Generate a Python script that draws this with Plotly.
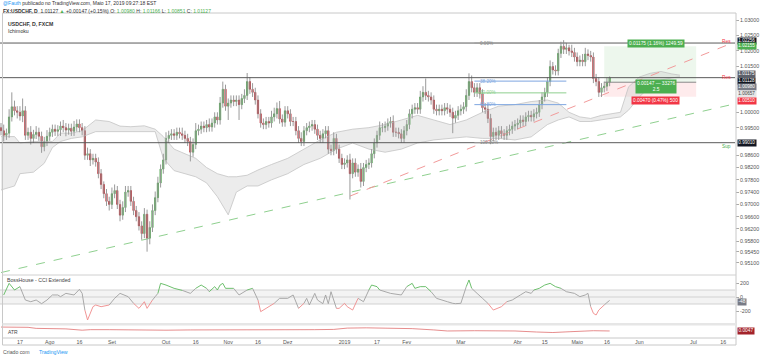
import pandas as pd
import plotly.graph_objects as go

W, H = 760, 359
FONT = "Liberation Sans, Arial, sans-serif"

# ---------------- data ----------------
first_day = "2018-07-06"
last_axis_day = "2019-07-31"
first_open = 0.9950

close = [
    0.9940, 0.9925, 0.9932, 0.9985, 1.0018, 1.0005, 1.0000, 0.9988, 1.0005, 0.9925,
    0.9935, 0.9915, 0.9928, 0.9935, 0.9922, 0.9888, 0.9905, 0.9922, 0.9935, 0.9945,
    0.9938, 0.9943, 0.9955, 0.9950, 0.9942, 0.9948, 0.9938, 0.9952, 0.9962, 0.9950,
    0.9940, 0.9860, 0.9865, 0.9845, 0.9850, 0.9838, 0.9800, 0.9765, 0.9735, 0.9710,
    0.9700, 0.9735, 0.9745, 0.9700, 0.9665, 0.9690, 0.9740, 0.9745, 0.9710, 0.9680,
    0.9660, 0.9630, 0.9605, 0.9668, 0.9590, 0.9625, 0.9680, 0.9722, 0.9770, 0.9815,
    0.9845, 0.9915, 0.9925, 0.9930, 0.9925, 0.9935, 0.9930, 0.9925, 0.9915, 0.9905,
    0.9870, 0.9895, 0.9940, 0.9945, 0.9955, 0.9950, 0.9960, 0.9952, 0.9965, 0.9985,
    0.9975, 1.0030, 1.0075, 1.0020, 1.0030, 1.0040, 1.0035, 1.0040, 1.0025, 1.0045,
    1.0055, 1.0100, 1.0075, 1.0065, 1.0040, 0.9995, 0.9965, 0.9960, 0.9970, 0.9965,
    0.9985, 0.9995, 1.0012, 0.9978, 0.9968, 1.0005, 0.9995, 0.9970, 0.9970, 0.9940,
    0.9915, 0.9905, 0.9940, 0.9950, 0.9955, 0.9960, 0.9945, 0.9925, 0.9915, 0.9930,
    0.9940, 0.9880, 0.9875, 0.9915, 0.9880, 0.9850, 0.9830, 0.9835, 0.9845, 0.9800,
    0.9835, 0.9805, 0.9815, 0.9775, 0.9820, 0.9830, 0.9835, 0.9865, 0.9900, 0.9925,
    0.9950, 0.9950, 0.9955, 0.9965, 0.9970, 0.9935, 0.9935, 0.9930, 0.9915, 0.9940,
    0.9960, 0.9995, 1.0010, 1.0015, 1.0010, 1.0050, 1.0065, 1.0055, 1.0050, 1.0040,
    1.0010, 1.0005, 1.0010, 1.0005, 1.0015, 1.0010, 1.0000, 0.9981, 0.9990, 1.0005,
    1.0010, 1.0018, 1.0055, 1.0100, 1.0080, 1.0065, 1.0080, 1.0060, 1.0015, 1.0010,
    0.9980, 0.9921, 0.9935, 0.9925, 0.9940, 0.9930, 0.9925, 0.9940, 0.9945, 0.9955,
    0.9960, 0.9965, 0.9975, 0.9970, 0.9985, 0.9990, 0.9985, 0.9995, 1.0000, 1.0025,
    1.0050, 1.0065, 1.0100, 1.0149, 1.0138, 1.0135, 1.0192, 1.0215, 1.0205, 1.0210,
    1.0200, 1.0195, 1.0180, 1.0165, 1.0170, 1.0165, 1.0190, 1.0185, 1.0180, 1.0110,
    1.0100, 1.0065, 1.0080, 1.0085, 1.0098, 1.01127,
]

upper_wick_pips = [
    15, 20, 15, 25, 47, 20, 15, 20, 40, 15,
    15, 20, 15, 20, 15, 15, 15, 20, 15, 15,
    15, 15, 15, 20, 15, 15, 15, 20, 15, 15,
    15, 15, 20, 15, 15, 15, 15, 15, 10, 15,
    15, 20, 20, 15, 15, 20, 20, 15, 15, 15,
    15, 15, 15, 20, 15, 20, 20, 20, 20, 15,
    20, 20, 15, 15, 15, 15, 15, 20, 15, 15,
    15, 20, 25, 15, 15, 15, 15, 20, 15, 15,
    15, 20, 25, 15, 15, 15, 15, 15, 15, 15,
    20, 28, 15, 20, 15, 15, 15, 15, 15, 15,
    20, 20, 20, 25, 15, 15, 15, 15, 15, 15,
    15, 20, 15, 15, 15, 15, 15, 15, 15, 15,
    15, 15, 15, 20, 15, 15, 15, 15, 15, 20,
    15, 15, 15, 20, 15, 15, 15, 15, 15, 15,
    20, 15, 15, 15, 15, 20, 15, 15, 15, 15,
    15, 15, 15, 15, 15, 20, 20, 45, 15, 15,
    15, 15, 15, 15, 15, 15, 15, 15, 15, 15,
    15, 15, 20, 27, 20, 15, 15, 15, 15, 15,
    15, 15, 15, 15, 15, 15, 15, 15, 15, 15,
    15, 15, 15, 15, 15, 15, 15, 15, 15, 15,
    15, 15, 15, 20, 15, 15, 15, 15, 20, 16,
    10, 20, 15, 15, 15, 20, 20, 15, 15, 15,
    15, 15, 15, 15, 15, 4,
]

lower_wick_pips = [
    15, 20, 15, 15, 15, 15, 20, 15, 20, 15,
    15, 20, 15, 15, 15, 20, 15, 15, 15, 15,
    15, 15, 20, 15, 20, 15, 15, 15, 15, 15,
    15, 15, 15, 20, 15, 15, 15, 15, 15, 15,
    20, 15, 15, 15, 20, 15, 15, 15, 15, 15,
    15, 15, 20, 15, 44, 20, 15, 15, 15, 15,
    15, 15, 15, 15, 15, 15, 15, 15, 15, 15,
    30, 15, 15, 15, 15, 15, 15, 15, 15, 15,
    15, 15, 15, 15, 45, 15, 15, 15, 50, 15,
    15, 15, 15, 15, 15, 15, 15, 15, 15, 15,
    15, 15, 15, 15, 15, 15, 15, 15, 15, 15,
    15, 15, 15, 15, 15, 15, 15, 15, 15, 15,
    15, 15, 15, 15, 15, 15, 15, 15, 15, 84,
    15, 15, 15, 20, 15, 15, 15, 15, 15, 15,
    15, 15, 15, 15, 15, 15, 15, 15, 15, 15,
    15, 15, 15, 15, 15, 15, 15, 15, 15, 15,
    15, 15, 15, 15, 15, 15, 15, 49, 15, 15,
    15, 15, 15, 15, 15, 15, 15, 15, 15, 15,
    15, 25, 15, 15, 15, 15, 15, 15, 15, 15,
    15, 15, 15, 15, 15, 15, 15, 15, 15, 15,
    15, 15, 15, 15, 15, 15, 15, 15, 15, 15,
    15, 15, 15, 15, 15, 15, 15, 15, 15, 15,
    15, 15, 15, 15, 15, 13,
]

# Ichimoku cloud edges (bar index -> price)
cloud_idx = [0, 5, 7, 12, 16, 19, 22, 26, 30, 35, 40, 44, 48, 53, 57, 60, 64, 68, 72, 76,
             80, 84, 87, 91, 95, 100, 106, 112, 118, 124, 130, 136, 142, 148, 154, 160, 166, 172, 178, 184,
             190, 196, 202, 206, 210, 214, 218, 222, 226, 229, 232, 236, 240, 244, 248, 251]
cloud_upper = [0.9921, 0.9921, 0.9900, 0.9905, 0.9905, 0.9905, 0.9932, 0.9932, 0.9940, 0.9975,
               0.9970, 0.9955, 0.9953, 0.9956, 0.9945, 0.9921, 0.9880, 0.9866, 0.9850, 0.9820,
               0.9800, 0.9790, 0.9790, 0.9795, 0.9812, 0.9830, 0.9850, 0.9880, 0.9910, 0.9935,
               0.9945, 0.9950, 0.9960, 0.9975, 0.9990, 0.9975, 0.9960, 0.9975, 1.0000, 1.0020,
               1.0025, 1.0035, 1.0040, 1.0030, 1.0000, 0.9985, 0.9980, 0.9990, 0.9995, 1.0000,
               1.0083, 1.0115, 1.0127, 1.0133, 1.0125, 1.0121]
cloud_lower = [0.9747, 0.9760, 0.9800, 0.9805, 0.9834, 0.9885, 0.9905, 0.9915, 0.9920, 0.9937,
               0.9937, 0.9937, 0.9937, 0.9937, 0.9937, 0.9850, 0.9810, 0.9800, 0.9790, 0.9770,
               0.9725, 0.9666, 0.9740, 0.9760, 0.9760, 0.9780, 0.9800, 0.9830, 0.9850, 0.9880,
               0.9900, 0.9880, 0.9870, 0.9880, 0.9900, 0.9910, 0.9915, 0.9920, 0.9915, 0.9915,
               0.9910, 0.9920, 0.9960, 0.9975, 0.9985, 0.9970, 0.9970, 0.9975, 0.9982, 0.9985,
               1.0007, 1.0050, 1.0085, 1.0105, 1.0112, 1.0116]

cci_idx = [1, 3, 5, 7, 9, 11, 13, 15, 17, 19, 21, 22, 24, 27, 29, 30, 31, 32, 34, 35,
           37, 40, 42, 44, 47, 49, 51, 53, 54, 56, 57, 58, 59, 61, 64, 67, 70, 72, 74, 76,
           77, 79, 80, 81, 82, 83, 86, 88, 91, 93, 95, 96, 98, 101, 103, 106, 108, 110, 112, 113,
           114, 116, 117, 119, 120, 121, 122, 124, 125, 127, 128, 130, 132, 134, 136, 137, 139, 140, 144, 148,
           150, 152, 153, 155, 157, 159, 161, 165, 167, 168, 170, 172, 173, 174, 176, 178, 180, 182, 185, 187,
           189, 192, 194, 196, 197, 199, 201, 203, 205, 207, 209, 212, 214, 216, 217, 218, 219, 220, 221, 223,
           224, 225]
cci_val = [29, 195, 100, 148, -43, -67, -43, -95, -43, 29, 29, 5, 52, 29, 110, 52, -186, -328, -138, -114,
           -138, -114, -19, 52, 5, -90, -162, -67, -162, -43, 5, 52, 195, 171, 124, 95, 52, 124, 171, 124,
           76, 148, 100, 171, 195, 124, 124, 29, 100, 124, -43, -209, -162, -90, -19, -19, 29, -162, -90, -19,
           -114, 52, -43, -95, 29, -95, 76, -162, -162, -90, -138, -186, -19, -67, 100, 171, 148, 100, 52, 29,
           148, 195, 124, 148, 148, 76, -19, -67, -90, -95, -90, 148, 243, 124, 52, -19, -90, -186, -138, -67,
           -43, 29, 76, 52, 100, 124, 171, 195, 148, 124, 76, 52, 5, 29, 52, -138, -233, -257, -186, -114,
           -80, -48]

atr_idx = [0, 10, 13, 24, 30, 33, 40, 50, 61, 70, 80, 95, 110, 116, 123, 128, 135, 140, 147, 152,
           160, 165, 175, 190, 198, 204, 210, 216, 219, 225]
atr_val = [0.0062, 0.0061, 0.0057, 0.0055, 0.0050, 0.0052, 0.0052, 0.0050, 0.0050, 0.0051,
           0.0051, 0.0050, 0.0050, 0.0052, 0.0053, 0.0058, 0.0059, 0.0058, 0.0057, 0.0056,
           0.0051, 0.0047, 0.0048, 0.0047, 0.0043, 0.0041, 0.0044, 0.0046, 0.0048, 0.0047]

time_tick_dates = ["2018-07-17", "2018-08-01", "2018-08-16", "2018-09-03", "2018-10-01", "2018-10-16",
                   "2018-11-01", "2018-11-16", "2018-12-03", "2019-01-01", "2019-01-17", "2019-02-01",
                   "2019-03-01", "2019-04-01", "2019-04-15", "2019-05-01", "2019-05-16", "2019-06-03",
                   "2019-07-01", "2019-07-16"]
time_tick_text = ["17", "Ago", "16", "Set", "Out", "16", "Nov", "16", "Dez", "2019", "17", "Fev",
                  "Mar", "Abr", "15", "Maio", "16", "Jun", "Jul", "16"]

price_tick_text = ["1.03000", "1.02500", "1.02000", "1.01500", "1.00000", "0.99500", "0.98600",
                   "0.98200", "0.97800", "0.97400", "0.97000", "0.96600", "0.96200", "0.95800",
                   "0.95450", "0.95100"]
cci_tick_vals = [200, 0, -200]

res_levels = [1.02256, 1.01128]
sup_levels = [0.99010]
fib_top, fib_bottom = 1.02256, 0.99010
fib_ratios = [0.0, 0.382, 0.5, 0.618, 1.0]
fib_labels = ["0.00%", "38.20%", "50.00%", "61.80%", "100.00%"]
fib_colors = ["#9e9e9e", "#7ea6e0", "#8fcf8f", "#7ea6e0", "#9e9e9e"]
fib_start, fib_end = "2019-03-08", "2019-04-25"

green_trend = [("2018-07-06", 0.9478), ("2019-07-22", 1.0027)]
red_trend = [("2019-01-03", 0.9727), ("2019-07-22", 1.0228)]

pos_start, pos_end = "2019-05-15", "2019-07-02"
pos_entry, pos_target, pos_stop = 1.00980, 1.02155, 1.00510
pos_texts = ["0.01175 (1.16%) 1249.59", "0.00147 — 33276<br>2.5", "0.00470 (0.47%) 500"]

axis_boxes = [("1.02256", 1.02256, "#131722", "white", 2.5),
              ("1.02155", 1.02155, "#4caf50", "white", 0),
              ("1.01175", 1.01175, "#5d606b", "white", 2),
              ("1.01128", 1.01128, "#131722", "white", -3),
              ("1.00980", 1.00980, "#787b86", "white", -5),
              ("1.00657", 1.00657, "#e6e6e6", "#444", -2),
              ("1.00510", 1.00510, "#f23645", "white", -4),
              ("0.99010", 0.99010, "#131722", "white", 0)]

last_ohlc = dict(o="1.00980", h="1.01166", l="1.00851", c="1.01127", chg="+0.00147 (+0.15%)")
cci_last, atr_last = -48, 0.0047

# ---------------- build ----------------
dates = pd.bdate_range(first_day, last_axis_day)


def di(d):
    return int(dates.get_loc(pd.Timestamp(d)))


n = len(close)
xs = list(range(n))
opens = [first_open] + close[:-1]
body_hi = [max(o, c) for o, c in zip(opens, close)]
body_lo = [min(o, c) for o, c in zip(opens, close)]
highs = [b + u * 1e-4 for b, u in zip(body_hi, upper_wick_pips)]
lows = [b - d * 1e-4 for b, d in zip(body_lo, lower_wick_pips)]

wx, wy = [], []
for i in xs:
    wx += [i, i, None]
    wy += [lows[i], highs[i], None]

fig = go.Figure()

# cloud
fig.add_trace(go.Scatter(x=cloud_idx, y=cloud_lower, mode="lines", line=dict(color="#c4c4c4", width=0.8),
                         hoverinfo="skip", xaxis="x", yaxis="y"))
fig.add_trace(go.Scatter(x=cloud_idx, y=cloud_upper, mode="lines", line=dict(color="#c4c4c4", width=0.8),
                         fill="tonexty", fillcolor="rgba(200,200,200,0.35)", hoverinfo="skip",
                         xaxis="x", yaxis="y"))

# trend lines
for pts, col in [(green_trend, "#8fd08f"), (red_trend, "#f29a9a")]:
    fig.add_trace(go.Scatter(x=[di(p[0]) for p in pts], y=[p[1] for p in pts], mode="lines",
                             line=dict(color=col, width=1, dash="dash"), hoverinfo="skip",
                             xaxis="x", yaxis="y"))

# wicks
fig.add_trace(go.Scatter(x=wx, y=wy, mode="lines", line=dict(color="#9a9a9a", width=1),
                         hoverinfo="skip", xaxis="x", yaxis="y"))
# bodies
fig.add_trace(go.Candlestick(x=xs, open=opens, close=close, high=body_hi, low=body_lo,
                             increasing=dict(line=dict(color="#3c9a3c", width=0.6), fillcolor="#3c9a3c"),
                             decreasing=dict(line=dict(color="#b3141c", width=0.6), fillcolor="#b3141c"),
                             whiskerwidth=0, hoverinfo="skip", xaxis="x", yaxis="y"))

# CCI coloured segments
seg = {"g": ([], []), "r": ([], []), "n": ([], [])}
for k in range(len(cci_idx) - 1):
    a, b = cci_val[k], cci_val[k + 1]
    m = (a + b) / 2
    key = "g" if m > 100 else ("r" if m < -100 else "n")
    seg[key][0].extend([cci_idx[k], cci_idx[k + 1], None])
    seg[key][1].extend([a, b, None])
for key, col in [("n", "#a0a0a0"), ("g", "#5cb85c"), ("r", "#ef8a8a")]:
    fig.add_trace(go.Scatter(x=seg[key][0], y=seg[key][1], mode="lines", line=dict(color=col, width=0.9),
                             hoverinfo="skip", xaxis="x2", yaxis="y2"))

# ATR
fig.add_trace(go.Scatter(x=atr_idx, y=atr_val, mode="lines", line=dict(color="#e07070", width=0.8),
                         hoverinfo="skip", xaxis="x3", yaxis="y3"))

# ---------------- shapes ----------------
shapes = []
for v in res_levels + sup_levels:
    shapes.append(dict(type="line", xref="x domain", x0=0, x1=1, yref="y", y0=v, y1=v,
                       line=dict(color="#5a5a5a", width=1)))
f0, f1 = di(fib_start), di(fib_end)
for r, col in zip(fib_ratios, fib_colors):
    v = fib_top - r * (fib_top - fib_bottom)
    shapes.append(dict(type="line", xref="x", x0=f0, x1=f1, yref="y", y0=v, y1=v,
                       line=dict(color=col, width=1)))
p0, p1 = di(pos_start), di(pos_end)
shapes.append(dict(type="rect", xref="x", x0=p0, x1=p1, yref="y", y0=pos_entry, y1=pos_target,
                   fillcolor="rgba(76,175,80,0.10)", line=dict(width=0), layer="below"))
shapes.append(dict(type="rect", xref="x", x0=p0, x1=p1, yref="y", y0=pos_stop, y1=pos_entry,
                   fillcolor="rgba(242,54,69,0.10)", line=dict(width=0), layer="below"))
shapes.append(dict(type="line", xref="x", x0=p0, x1=p1, yref="y", y0=pos_entry, y1=pos_entry,
                   line=dict(color="#8a8a8a", width=1)))
# CCI band
shapes.append(dict(type="rect", xref="x2 domain", x0=0, x1=1, yref="y2", y0=-100, y1=100,
                   fillcolor="#f3f3f3", line=dict(width=0), layer="below"))
for v in [100, 0, -100]:
    shapes.append(dict(type="line", xref="x2 domain", x0=0, x1=1, yref="y2", y0=v, y1=v,
                       line=dict(color="#c8c8c8", width=0.8), layer="below"))


def px(xp):
    return xp / W


def py(yp):
    return 1 - yp / H


# frame / separators
shapes += [
    dict(type="rect", xref="paper", yref="paper", x0=px(2.5), x1=px(736), y0=py(345), y1=py(13),
         line=dict(color="#c8c8c8", width=1)),
    dict(type="line", xref="paper", yref="paper", x0=px(2.5), x1=px(736), y0=py(275), y1=py(275),
         line=dict(color="#d0d0d0", width=1)),
    dict(type="rect", xref="paper", yref="paper", x0=px(2.5), x1=px(736), y0=py(325.5), y1=py(323),
         fillcolor="#e6e6e6", line=dict(width=0)),
    dict(type="line", xref="paper", yref="paper", x0=px(2.5), x1=px(736), y0=py(338), y1=py(338),
         line=dict(color="#c8c8c8", width=1)),
]

# ---------------- annotations ----------------
ann = []


def text(t, xp, yp, size=5.2, color="#333", xanchor="left", **kw):
    ann.append(dict(text=t, x=px(xp), y=py(yp), xref="paper", yref="paper", showarrow=False,
                    font=dict(size=size, color=color, family=FONT), xanchor=xanchor,
                    yanchor="middle", **kw))


G = "#4caf50"
text('<span style="color:#2196f3">@Fauth</span> publicado no TradingView.com, Maio 17, 2019 09:27:18 EST',
     1, 3.5, size=5)
text(f'<b>FX:USDCHF, D</b>  {last_ohlc["c"]} <span style="color:{G}">▲</span> {last_ohlc["chg"]} '
     f'O: <span style="color:{G}">{last_ohlc["o"]}</span> H: <span style="color:{G}">{last_ohlc["h"]}</span> '
     f'L: <span style="color:{G}">{last_ohlc["l"]}</span> C: <span style="color:{G}">{last_ohlc["c"]}</span>',
     1, 11, size=5)
text("<b>USDCHF, D, FXCM</b>", 6, 24, size=5.2)
text("Ichimoku", 6, 31, size=5.2)
text("BossHouse - CCI Extended", 5, 280, size=5.2, color="#444")
text("ATR", 6, 331.5, size=5, color="#444")
text("Criado com", 1, 352, size=5.2, color="#555")
text("TradingView", 37, 352, size=5.2, color="#2196f3")

for lbl, yp in [("Res", 41), ("Res", 77)]:
    text(lbl, 733, yp, size=4.8, color="#f23645", xanchor="right")
text("Sup", 733, 146, size=4.8, color="#4caf50", xanchor="right")

for r, lbl, col in zip(fib_ratios, fib_labels, fib_colors):
    v = fib_top - r * (fib_top - fib_bottom)
    ann.append(dict(text=lbl, x=f0 + 1.5, y=v, xref="x", yref="y", showarrow=False,
                    font=dict(size=4.6, color=col if r not in (0.0, 1.0) else "#8a8a8a", family=FONT),
                    xanchor="left", yanchor="middle"))

pc = (p0 + p1) / 2 + 2
ann.append(dict(text=pos_texts[0], x=pc, y=pos_target, xref="x", yref="y", yshift=3, showarrow=False,
                font=dict(size=4.8, color="white", family=FONT), bgcolor="#4caf50", borderpad=1))
ann.append(dict(text=pos_texts[1], x=pc, y=pos_entry, xref="x", yref="y", yshift=-4, showarrow=False,
                font=dict(size=4.8, color="white", family=FONT), bgcolor="#4caf50", borderpad=1))
ann.append(dict(text=pos_texts[2], x=pc, y=pos_stop, xref="x", yref="y", yshift=-3.5, showarrow=False,
                font=dict(size=4.8, color="white", family=FONT), bgcolor="#f23645", borderpad=1))

for t, v, bg, fg, sh in axis_boxes:
    ann.append(dict(text=t, x=px(737), y=v, xref="paper", yref="y", yshift=sh, showarrow=False,
                    font=dict(size=4.6, color=fg, family=FONT), bgcolor=bg, borderpad=0.3,
                    xanchor="left", yanchor="middle"))
ann.append(dict(text=str(cci_last), x=px(736.5), y=cci_last, xref="paper", yref="y2", yshift=-1.5,
                showarrow=False, font=dict(size=4.8, color="white", family=FONT), bgcolor="#787b86",
                borderpad=0.4, xanchor="left", yanchor="middle"))
ann.append(dict(text=f"{atr_last:.4f}", x=px(736.5), y=atr_last, xref="paper", yref="y3", showarrow=False,
                font=dict(size=4.8, color="white", family=FONT), bgcolor="#a3232b", borderpad=0.4,
                xanchor="left", yanchor="middle"))

# ---------------- layout ----------------
XR = [(0 - 1) / 2.705, (735 - 1) / 2.705]
XD = [0, 735 / W]
tick_font = dict(size=5.3, color="#555", family=FONT)

fig.update_layout(
    width=W, height=H, margin=dict(l=0, r=0, t=0, b=0),
    paper_bgcolor="white", plot_bgcolor="white", showlegend=False,
    template="none",
    xaxis=dict(domain=XD, range=XR, anchor="y", showticklabels=False, showgrid=False, zeroline=False,
               rangeslider=dict(visible=False), automargin=False),
    xaxis2=dict(domain=XD, matches="x", anchor="y2", showticklabels=False, showgrid=False,
                zeroline=False, automargin=False),
    xaxis3=dict(domain=XD, matches="x", anchor="y3", showgrid=False, zeroline=False,
                tickvals=[di(d) for d in time_tick_dates], ticktext=time_tick_text,
                ticks="", tickfont=tick_font, automargin=False),
    yaxis=dict(domain=[py(274), py(14)], range=[0.94733, 1.03202], side="right",
               tickvals=[float(t) for t in price_tick_text], ticktext=price_tick_text,
               ticks="outside", ticklen=3, tickcolor="#aaa", tickfont=tick_font,
               showgrid=False, zeroline=False, automargin=False),
    yaxis2=dict(domain=[py(323), py(276)], range=[-371, 300], side="right", anchor="x2",
                tickvals=cci_tick_vals, ticktext=[str(v) for v in cci_tick_vals],
                ticks="outside", ticklen=3, tickcolor="#aaa", tickfont=tick_font,
                showgrid=False, zeroline=False, automargin=False),
    yaxis3=dict(domain=[py(338), py(325.5)], range=[0.0020, 0.0068], side="right", anchor="x3",
                showticklabels=False, showgrid=False, zeroline=False, automargin=False),
    shapes=shapes, annotations=ann,
)

fig.write_html("out.html", config=dict(displayModeBar=False),
               post_script="document.body.style.margin='0';document.body.style.overflow='hidden';")
